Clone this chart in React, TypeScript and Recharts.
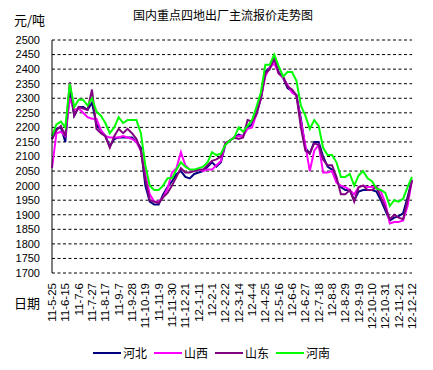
import React from 'react';
import { LineChart, Line, XAxis, YAxis, CartesianGrid, Legend } from 'recharts';

// weekly quotes, 2011-05-25 .. 2012-12-12
const dates = [
  '11-5-25', '11-6-1', '11-6-8', '11-6-15', '11-6-22', '11-6-29', '11-7-6', '11-7-13', '11-7-20', '11-7-27',
  '11-8-3', '11-8-10', '11-8-17', '11-8-24', '11-8-31', '11-9-7', '11-9-14', '11-9-21', '11-9-28', '11-10-5',
  '11-10-12', '11-10-19', '11-10-26', '11-11-2', '11-11-9', '11-11-16', '11-11-23', '11-11-30', '11-12-7', '11-12-14',
  '11-12-21', '11-12-28', '12-1-4', '12-1-11', '12-1-18', '12-1-25', '12-2-1', '12-2-8', '12-2-15', '12-2-22',
  '12-2-29', '12-3-7', '12-3-14', '12-3-21', '12-3-28', '12-4-4', '12-4-11', '12-4-18', '12-4-25', '12-5-2',
  '12-5-9', '12-5-16', '12-5-23', '12-5-30', '12-6-6', '12-6-13', '12-6-20', '12-6-27', '12-7-4', '12-7-11',
  '12-7-18', '12-7-25', '12-8-1', '12-8-8', '12-8-15', '12-8-22', '12-8-29', '12-9-5', '12-9-12', '12-9-19',
  '12-9-26', '12-10-3', '12-10-10', '12-10-17', '12-10-24', '12-10-31', '12-11-7', '12-11-14', '12-11-21', '12-11-28',
  '12-12-5', '12-12-12',
];

const hebei = [
  2160, 2195, 2200, 2150, 2330, 2240, 2270, 2270, 2260, 2285,
  2210, 2190, 2170, 2135, 2160, 2165, 2165, 2165, 2165, 2150,
  2130, 2000, 1945, 1935, 1935, 1970, 1995, 2015, 2040, 2050,
  2030, 2025, 2040, 2045, 2050, 2065, 2080, 2065, 2080, 2140,
  2155, 2165, 2175, 2170, 2200, 2210, 2250, 2300, 2390, 2405,
  2435, 2390, 2370, 2335, 2325, 2310, 2230, 2130, 2110, 2150,
  2150, 2100, 2065, 2055, 2015, 1995, 1985, 1985, 1950, 1980,
  1985, 1985, 1985, 1980, 1950, 1915, 1880, 1890, 1895, 1905,
  1960, 2020,
];

const shanxi = [
  2060, 2180, 2185, 2170, 2300, 2260, 2265, 2250, 2235, 2230,
  2230, 2190, 2170, 2165, 2165, 2165, 2170, 2165, 2160, 2150,
  2120, 2040, 1970, 1945, 1945, 1960, 1990, 2045, 2060, 2115,
  2070, 2055, 2050, 2055, 2050, 2055, 2055, 2070, 2085, 2145,
  2155, 2165, 2170, 2170, 2195, 2200, 2245, 2300, 2375, 2405,
  2420, 2385, 2370, 2345, 2320, 2310, 2220, 2140, 2050, 2120,
  2140, 2045, 2045, 2050, 2010, 2000, 1995, 1985, 1970, 1995,
  2000, 1995, 1995, 1995, 1980, 1940, 1870, 1875, 1875, 1880,
  1930, 2020,
];

const shandong = [
  2160, 2190, 2205, 2170, 2355, 2240, 2270, 2265, 2260, 2330,
  2195, 2180, 2170, 2130, 2170, 2195, 2180, 2195, 2180, 2160,
  2120, 2020, 1950, 1945, 1940, 1960, 1975, 2000, 2030, 2060,
  2045, 2045, 2050, 2055, 2055, 2070, 2085, 2090, 2100, 2145,
  2155, 2165, 2160, 2165, 2225, 2220, 2245, 2300, 2385, 2400,
  2440, 2385, 2375, 2340, 2330, 2310, 2200, 2120, 2110, 2145,
  2140, 2090, 2070, 2070, 2030, 1970, 1970, 1985, 1945, 1995,
  2000, 1985, 1985, 1995, 1960, 1925, 1885, 1900, 1890, 1885,
  1950, 2020,
];

const henan = [
  2170, 2210, 2220, 2200, 2350, 2270, 2295, 2295, 2275, 2300,
  2255, 2240, 2215, 2180, 2200, 2235, 2215, 2225, 2225, 2225,
  2180, 2070, 2000, 1985, 1985, 2000, 2025, 2025, 2055, 2080,
  2065, 2055, 2055, 2060, 2065, 2080, 2115, 2105, 2110, 2140,
  2155, 2165, 2200, 2185, 2205, 2225, 2270, 2320, 2415, 2415,
  2450, 2410, 2375, 2390, 2390, 2360, 2275, 2240, 2195, 2225,
  2205, 2130, 2105, 2105, 2080, 2030, 2030, 2040, 2000, 2035,
  2050, 2025, 2015, 1990, 1985, 1975, 1930, 1950, 1945, 1955,
  1995, 2030,
];

const yTicks = [1700, 1750, 1800, 1850, 1900, 1950, 2000, 2050, 2100, 2150, 2200, 2250, 2300, 2350, 2400, 2450, 2500];

const series = [
  { key: 'hebei', name: '河北', color: '#000080' },
  { key: 'shanxi', name: '山西', color: '#ff00ff' },
  { key: 'shandong', name: '山东', color: '#800080' },
  { key: 'henan', name: '河南', color: '#00ff00' },
];

const data = dates.map((d, i) => ({
  date: d,
  hebei: hebei[i],
  shanxi: shanxi[i],
  shandong: shandong[i],
  henan: henan[i],
}));

const latin = '"Liberation Sans", Arial, sans-serif';
const cjk = '"Noto Sans CJK SC", sans-serif';

const DateTick = ({ x, y, payload }: any) => (
  <text
    x={x}
    y={y}
    transform={`rotate(-90, ${x}, ${y})`}
    textAnchor="end"
    dominantBaseline="central"
    fontSize={11.5}
    fontFamily={latin}
    fill="#000"
  >
    {payload.value}
  </text>
);

// keep the legend in series order
const LegendBox = () => (
  <div style={{ display: 'flex', justifyContent: 'center', alignItems: 'center', height: 20 }}>
    {series.map((s) => (
      <div key={s.key} style={{ display: 'flex', alignItems: 'center', marginLeft: 3, marginRight: 4 }}>
        <div style={{ width: 28, height: 2, background: s.color, marginRight: 2 }} />
        <span style={{ fontFamily: cjk, fontSize: 12, color: '#000', lineHeight: '20px' }}>{s.name}</span>
      </div>
    ))}
  </div>
);

const textStyle: React.CSSProperties = {
  position: 'absolute',
  fontFamily: cjk,
  fontSize: 12,
  color: '#000',
  lineHeight: '14px',
  whiteSpace: 'nowrap',
};

export default function App() {
  return (
    <div style={{ position: 'absolute', left: 0, top: 0, width: 433, height: 370, background: '#fff' }}>
      <LineChart
        width={433}
        height={370}
        data={data}
        margin={{ top: 40, right: 21, bottom: 7, left: 12 }}
      >
        <CartesianGrid vertical={false} stroke="#000" strokeDasharray="3 2.5" />
        <XAxis
          dataKey="date"
          interval={2}
          axisLine={false}
          tickLine={false}
          tickMargin={4}
          height={70}
          tick={<DateTick />}
        />
        <YAxis
          domain={[1700, 2500]}
          ticks={yTicks}
          interval={0}
          width={40}
          axisLine={{ stroke: '#000', strokeWidth: 1 }}
          tickLine={false}
          tickMargin={6}
          tick={{ fontSize: 11, fontFamily: latin, fill: '#000' }}
        />
        {series.map((s) => (
          <Line
            key={s.key}
            type="linear"
            dataKey={s.key}
            name={s.name}
            stroke={s.color}
            strokeWidth={2}
            dot={false}
            isAnimationActive={false}
          />
        ))}
        <Legend verticalAlign="bottom" height={20} content={<LegendBox />} />
      </LineChart>
      <div style={{ ...textStyle, left: 0, width: 446, top: 8, textAlign: 'center' }}>国内重点四地出厂主流报价走势图</div>
      <div style={{ ...textStyle, left: 14, top: 13, fontSize: 13 }}>元/吨</div>
      <div style={{ ...textStyle, left: 14, top: 296, fontSize: 13 }}>日期</div>
    </div>
  );
}
